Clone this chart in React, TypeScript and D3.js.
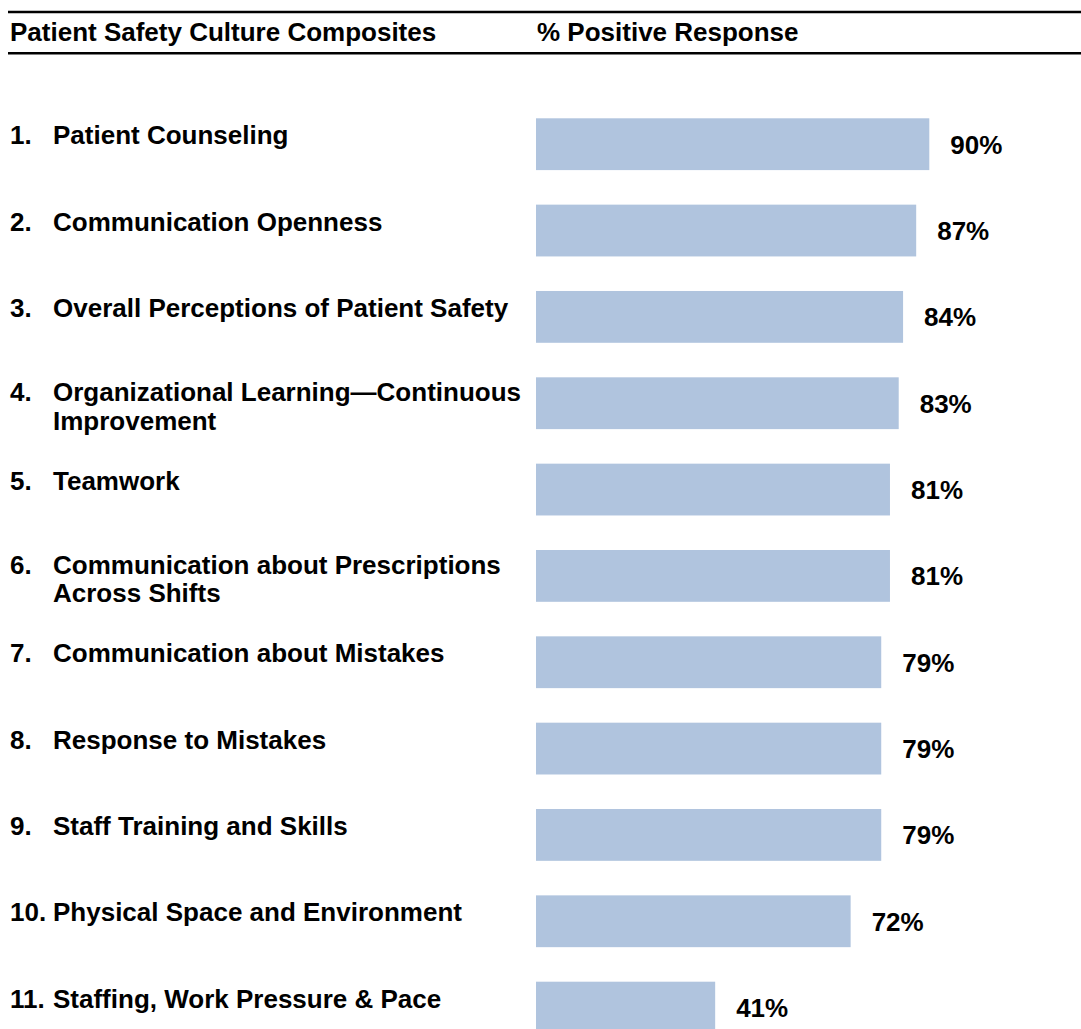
import React from "react";
import * as d3 from "d3";

const numbers = ["1.", "2.", "3.", "4.", "5.", "6.", "7.", "8.", "9.", "10.", "11."];
const categories: string[][] = [
  ["Patient Counseling"],
  ["Communication Openness"],
  ["Overall Perceptions of Patient Safety"],
  ["Organizational Learning\u2014Continuous", "Improvement"],
  ["Teamwork"],
  ["Communication about Prescriptions", "Across Shifts"],
  ["Communication about Mistakes"],
  ["Response to Mistakes"],
  ["Staff Training and Skills"],
  ["Physical Space and Environment"],
  ["Staffing, Work Pressure & Pace"],
];
const values = [90, 87, 84, 83, 81, 81, 79, 79, 79, 72, 41];
const headerLeft = "Patient Safety Culture Composites";
const headerRight = "% Positive Response";

const W = 1081;
const H = 1029;
const FONT = "'Liberation Sans', Arial, Helvetica, sans-serif";

export default function App() {
  const step = 86.34;
  const pi = 0.4;
  const po = 0.2;
  const y0 = 118.3 - step * po;
  const y = d3
    .scaleBand<number>()
    .domain(d3.range(values.length))
    .range([y0, y0 + step * values.length])
    .paddingInner(pi)
    .paddingOuter(po);
  const x = d3.scaleLinear().domain([0, 100]).range([536, 973]);
  const bw = y.bandwidth();

  return (
    <div style={{ position: "absolute", left: 0, top: 0 }}>
      <svg width={W} height={H} style={{ display: "block" }} fontFamily={FONT}>
        <rect width={W} height={H} fill="#fff" />
        <line x1={8} x2={W} y1={12} y2={12} stroke="#000" strokeWidth={2.6} />
        <line x1={8} x2={W} y1={53.3} y2={53.3} stroke="#000" strokeWidth={2.4} />
        <text x={10} y={41} fontSize={26} fontWeight="bold" fill="#000">
          {headerLeft}
        </text>
        <text x={537} y={41} fontSize={26} fontWeight="bold" fill="#000">
          {headerRight}
        </text>
        {values.map((v, i) => {
          const top = y(i)!;
          const cy = top + bw / 2;
          const multi = categories[i].length > 1;
          const base = cy - (multi ? 2 : 0);
          return (
            <g key={i}>
              <rect x={x(0)} y={top} width={x(v) - x(0)} height={bw} fill="#b0c4de" />
              <text x={x(v) + 21} y={cy + 9.3} fontSize={26} fontWeight="bold" fill="#000">
                {v + "%"}
              </text>
              <text x={10} y={base} fontSize={26} fontWeight="bold" fill="#000">
                {numbers[i]}
              </text>
              {categories[i].map((line, j) => (
                <text
                  key={j}
                  x={53}
                  y={base + j * 28.5}
                  fontSize={26}
                  fontWeight="bold"
                  fill="#000"
                >
                  {line}
                </text>
              ))}
            </g>
          );
        })}
      </svg>
    </div>
  );
}
